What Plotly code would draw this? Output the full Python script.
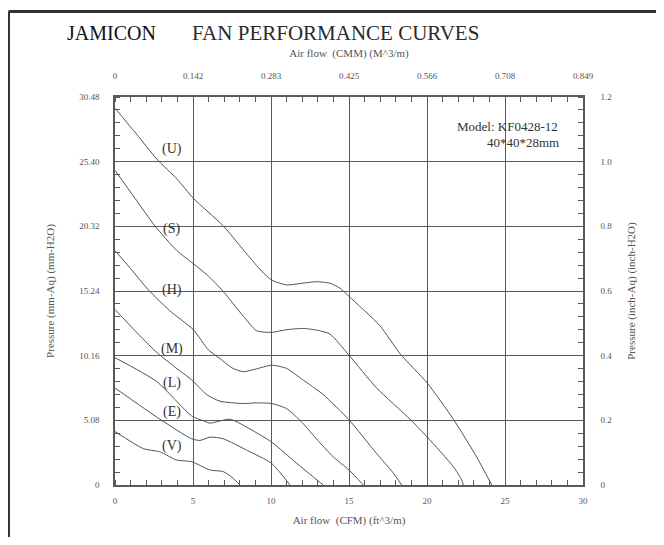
import plotly.graph_objects as go

# unit conversions for the secondary (top / right) axes
CFM_TO_CMM = 0.0283168
MM_TO_INCH = 1 / 25.4

cfm_ticks = [0, 5, 10, 15, 20, 25, 30]
cmm_labels = ["0", "0.142", "0.283", "0.425", "0.566", "0.708", "0.849"]
mm_ticks = [0, 5.08, 10.16, 15.24, 20.32, 25.40, 30.48]
mm_labels = ["0", "5.08", "10.16", "15.24", "20.32", "25.40", "30.48"]
inch_ticks = [0, 0.2, 0.4, 0.6, 0.8, 1.0, 1.2]
inch_labels = ["0", "0.2", "0.4", "0.6", "0.8", "1.0", "1.2"]

# P-Q curves, x = airflow (CFM), y = static pressure (mm-H2O)
u_x = [0, 1.39, 2.67, 4.0, 5.02, 6.94, 8.44, 9.4, 10.04, 11.0, 12.0, 12.93, 13.78, 14.42, 15.0,
       16.99, 18.27, 20.02, 21.69, 23.18, 24.15]
u_y = [29.6, 27.55, 25.62, 24.0, 22.53, 20.35, 18.16, 16.8, 16.1, 15.72, 15.85, 15.97, 15.85, 15.46, 14.82,
       12.5, 10.32, 8.0, 5.17, 2.21, 0]
s_x = [0, 1.28, 2.56, 3.96, 5.02, 6.0, 6.94, 8.22, 9.08, 10.04, 11.0, 12.07, 13.0, 13.78, 15.0,
       16.77, 18.91, 20.02, 21.69, 22.22, 22.33]
s_y = [24.72, 22.53, 20.35, 18.42, 17.39, 16.4, 15.2, 13.27, 12.12, 11.99, 12.2, 12.3, 12.15, 11.86, 10.19,
       7.62, 5.17, 3.76, 1.44, 0.41, 0]
h_x = [0, 1.0, 2.14, 3.5, 5.02, 6.0, 6.73, 7.5, 8.22, 9.0, 10.04, 11.0, 12.0, 13.35, 15.0, 16.77, 17.8, 18.38]
h_y = [18.42, 17.0, 15.33, 13.7, 12.2, 10.6, 9.93, 9.2, 8.9, 9.1, 9.41, 9.16, 8.3, 7.1, 5.12, 2.47, 1.0, 0]
m_x = [0, 1.3, 2.6, 3.8, 4.91, 5.88, 6.73, 8.22, 9.0, 10.04, 11.0, 12.0, 13.0, 14.0, 15.0, 15.92]
m_y = [13.79, 12.1, 10.5, 9.3, 8.26, 7.1, 6.58, 6.4, 6.45, 6.4, 6.0, 4.9, 3.5, 2.2, 1.18, 0]
l_x = [0, 2.67, 4.91, 5.66, 6.09, 7.37, 8.65, 10.04, 11.65, 13.35]
l_y = [10.0, 8.13, 5.43, 5.04, 4.86, 5.17, 4.4, 3.37, 1.7, 0]
e_x = [0, 2.88, 4.91, 5.45, 6.09, 6.94, 8.5, 10.04, 11.22]
e_y = [7.62, 5.17, 3.63, 3.5, 3.76, 3.63, 2.7, 1.7, 0]
v_x = [0, 1.81, 2.88, 3.96, 4.91, 6.09, 6.94, 7.5, 8.01]
v_y = [4.2, 2.86, 2.6, 1.96, 1.83, 1.18, 1.05, 0.6, 0]

curves = {
    "(U)": (u_x, u_y), "(S)": (s_x, s_y), "(H)": (h_x, h_y), "(M)": (m_x, m_y),
    "(L)": (l_x, l_y), "(E)": (e_x, e_y), "(V)": (v_x, v_y),
}
label_pos = {
    "(U)": (3.65, 26.4), "(S)": (3.65, 20.1), "(H)": (3.65, 15.3), "(M)": (3.65, 10.7),
    "(L)": (3.65, 8.0), "(E)": (3.65, 5.7), "(V)": (3.65, 3.1),
}

SERIF = "Liberation Serif, Times New Roman, serif"
LINE = "#5a5a5a"
TXT = "#555555"

fig = go.Figure()
for name, (xs, ys) in curves.items():
    fig.add_trace(go.Scatter(x=xs, y=ys, mode="lines", name=name,
                             line=dict(color="#525252", width=1, shape="spline", smoothing=0.6),
                             hoverinfo="skip"))

# transparent copy in CMM / inch units so the top and right axes get drawn
fig.add_trace(go.Scatter(x=[v * CFM_TO_CMM for v in u_x], y=[v * MM_TO_INCH for v in u_y],
                         xaxis="x2", yaxis="y2", mode="lines", opacity=0,
                         line=dict(width=0), hoverinfo="skip", showlegend=False))

for name, (lx, ly) in label_pos.items():
    fig.add_annotation(x=lx, y=ly, text=name, showarrow=False,
                       font=dict(family=SERIF, size=14, color="#333333"))

fig.add_annotation(xref="paper", yref="paper", x=0.95, y=0.925, xanchor="right", yanchor="middle",
                   text="Model: KF0428-12", showarrow=False,
                   font=dict(family=SERIF, size=13, color="#333333"))
fig.add_annotation(xref="paper", yref="paper", x=0.952, y=0.884, xanchor="right", yanchor="middle",
                   text="40*40*28mm", showarrow=False,
                   font=dict(family=SERIF, size=13, color="#333333"))

# header
fig.add_annotation(xref="paper", yref="paper", x=-0.107, y=1.165, xanchor="left", yanchor="middle",
                   text="JAMICON", showarrow=False,
                   font=dict(family=SERIF, size=20, color="#111111"))
fig.add_annotation(xref="paper", yref="paper", x=0.16, y=1.165, xanchor="left", yanchor="middle",
                   text="FAN PERFORMANCE CURVES", showarrow=False,
                   font=dict(family=SERIF, size=21, color="#2a2a2a"))

# page frame (top and left edges)
fig.add_shape(type="line", xref="paper", yref="paper", x0=-0.2276, x1=1.25, y0=1.2203, y1=1.2203,
              line=dict(color="#333333", width=3))
fig.add_shape(type="line", xref="paper", yref="paper", x0=-0.2276, x1=-0.2276, y0=1.2203, y1=-0.3,
              line=dict(color="#333333", width=3))

tickfont = dict(family=SERIF, size=9, color=TXT)
titlefont = dict(family=SERIF, size=11, color=TXT)

fig.update_layout(
    width=648, height=529,
    margin=dict(l=107, r=73, t=89, b=45),
    paper_bgcolor="white", plot_bgcolor="white",
    showlegend=False,
    xaxis=dict(range=[0, 30], tickvals=cfm_ticks, ticktext=[str(v) for v in cfm_ticks],
               showgrid=True, gridcolor=LINE, gridwidth=1, zeroline=False,
               showline=True, linecolor=LINE, linewidth=1.5, ticks="",
               minor=dict(dtick=1, tick0=0, ticks="inside", ticklen=5, tickcolor=LINE, showgrid=False),
               tickfont=tickfont, ticklabelstandoff=6,
               title=dict(text="Air flow  (CFM) (ft^3/m)", font=titlefont, standoff=12)),
    yaxis=dict(range=[0, 30.48], tickvals=mm_ticks, ticktext=mm_labels,
               showgrid=True, gridcolor=LINE, gridwidth=1, zeroline=False,
               showline=True, linecolor=LINE, linewidth=1.5, ticks="",
               minor=dict(dtick=1.016, tick0=0, ticks="inside", ticklen=5, tickcolor=LINE, showgrid=False),
               tickfont=tickfont, ticklabelstandoff=12,
               title=dict(text="Pressure (mm-Aq) (mm-H2O)", font=titlefont, standoff=22)),
    xaxis2=dict(overlaying="x", side="top", anchor="y",
                range=[0, 30 * CFM_TO_CMM], tickvals=[v * CFM_TO_CMM for v in cfm_ticks], ticktext=cmm_labels,
                showgrid=False, zeroline=False, showline=True, linecolor=LINE, linewidth=1.5, ticks="",
                minor=dict(dtick=CFM_TO_CMM, tick0=0, ticks="inside", ticklen=5, tickcolor=LINE),
                tickfont=tickfont, ticklabelstandoff=13,
                title=dict(text="Air flow  (CMM) (M^3/m)", font=titlefont, standoff=11)),
    yaxis2=dict(overlaying="y", side="right", anchor="x",
                range=[0, 30.48 * MM_TO_INCH], tickvals=inch_ticks, ticktext=inch_labels,
                showgrid=False, zeroline=False, showline=True, linecolor=LINE, linewidth=1.5, ticks="",
                minor=dict(dtick=0.04, tick0=0, ticks="inside", ticklen=5, tickcolor=LINE),
                tickfont=tickfont, ticklabelstandoff=14,
                title=dict(text="Pressure (inch-Aq) (inch-H2O)", font=titlefont, standoff=16)),
)

fig.write_html("out.html")
